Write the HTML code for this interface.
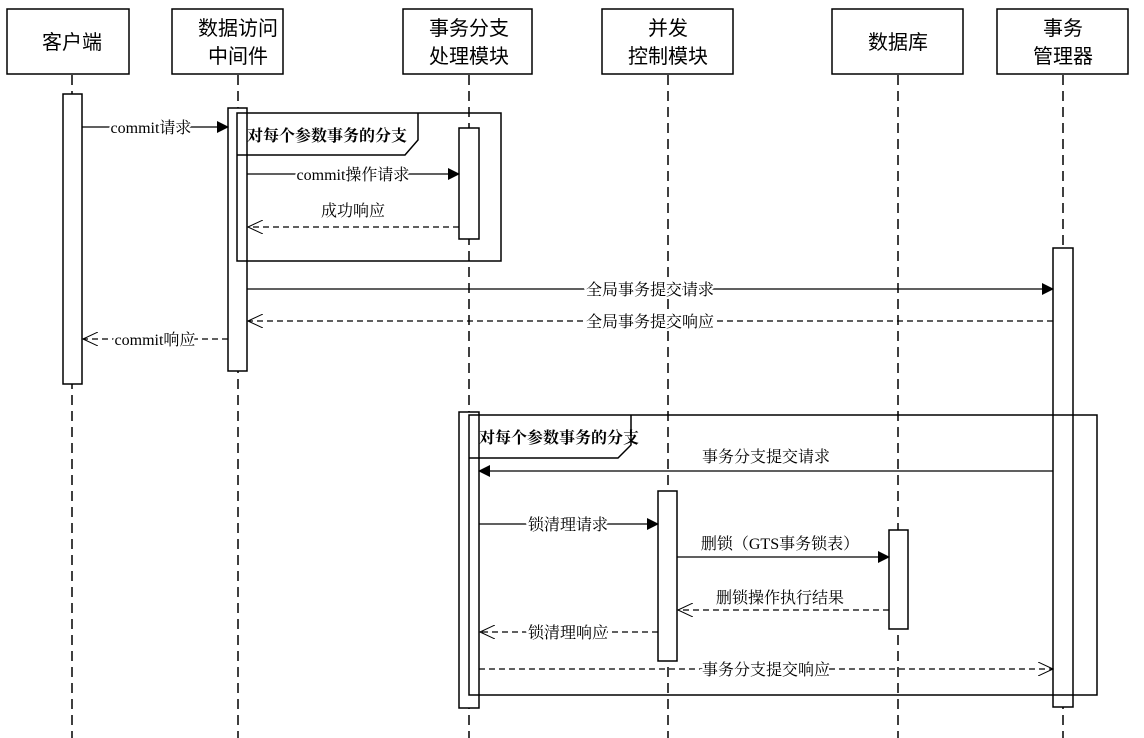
<!DOCTYPE html>
<html><head><meta charset="utf-8"><style>html,body{margin:0;padding:0;background:#fff}svg{display:block}</style></head><body>
<svg width="1144" height="738" viewBox="0 0 1144 738" xmlns="http://www.w3.org/2000/svg" font-family="'Liberation Serif','Noto Serif CJK SC','Noto Sans CJK SC',serif">
<defs>
<marker id="f" markerWidth="12" markerHeight="12" refX="11" refY="6" orient="auto" markerUnits="userSpaceOnUse"><path d="M0,0 L12,6 L0,12 z" fill="#000"/></marker>
<marker id="o" markerWidth="16" markerHeight="14" refX="15" refY="7" orient="auto" markerUnits="userSpaceOnUse"><path d="M0,0 L15,7 L0,14" fill="none" stroke="#000" stroke-width="1"/></marker>
</defs>
<g stroke="#000" stroke-width="1.5" stroke-dasharray="10,6" fill="none">
<line x1="72" y1="75" x2="72" y2="738"/><line x1="238" y1="75" x2="238" y2="738"/><line x1="469" y1="75" x2="469" y2="738"/><line x1="668" y1="75" x2="668" y2="738"/><line x1="898" y1="75" x2="898" y2="738"/><line x1="1063" y1="75" x2="1063" y2="738"/>
</g>
<g stroke="#000" stroke-width="1.5" fill="#fff">
<rect x="7" y="9" width="122" height="65"/><rect x="172" y="9" width="111" height="65"/><rect x="403" y="9" width="129" height="65"/><rect x="602" y="9" width="131" height="65"/><rect x="832" y="9" width="131" height="65"/><rect x="997" y="9" width="131" height="65"/>
</g>
<g font-size="20" text-anchor="middle" font-family="'Liberation Sans','Noto Sans CJK SC',sans-serif">
<text x="72" y="49">客户端</text>
<text x="238" y="35">数据访问</text><text x="238" y="63">中间件</text>
<text x="469" y="35">事务分支</text><text x="469" y="63">处理模块</text>
<text x="668" y="35">并发</text><text x="668" y="63">控制模块</text>
<text x="898" y="49">数据库</text>
<text x="1063" y="35">事务</text><text x="1063" y="63">管理器</text>
</g>
<g stroke="#000" stroke-width="1.5" fill="#fff">
<rect x="63" y="94" width="19" height="290"/>
<rect x="228" y="108" width="19" height="263"/>
<rect x="1053" y="248" width="20" height="459"/>
<rect x="459" y="412" width="20" height="296"/>
</g>
<g stroke="#000" stroke-width="1.5" fill="none">
<rect x="237" y="113" width="264" height="148"/>
<path d="M237,155 L405,155 L418,140 L418,113"/>
<rect x="469" y="415" width="628" height="280"/>
<path d="M469,458 L618,458 L631,445 L631,415"/>
</g>
<g stroke="#000" stroke-width="1.5" fill="#fff">
<rect x="459" y="128" width="20" height="111"/>
<rect x="658" y="491" width="19" height="170"/>
<rect x="889" y="530" width="19" height="99"/>
</g>
<g font-size="16" font-weight="bold"><text x="247" y="141">对每个参数事务的分支</text><text x="479" y="443">对每个参数事务的分支</text></g>
<g stroke="#000" stroke-width="1.2" fill="none">
<line x1="82" y1="127" x2="228" y2="127" marker-end="url(#f)"/>
<line x1="247" y1="174" x2="459" y2="174" marker-end="url(#f)"/>
<line x1="459" y1="227" x2="248" y2="227" stroke-dasharray="6,4" marker-end="url(#o)"/>
<line x1="247" y1="289" x2="1053" y2="289" marker-end="url(#f)"/>
<line x1="1053" y1="321" x2="248" y2="321" stroke-dasharray="6,4" marker-end="url(#o)"/>
<line x1="228" y1="339" x2="83" y2="339" stroke-dasharray="6,4" marker-end="url(#o)"/>
<line x1="1053" y1="471" x2="479" y2="471" marker-end="url(#f)"/>
<line x1="479" y1="524" x2="658" y2="524" marker-end="url(#f)"/>
<line x1="677" y1="557" x2="889" y2="557" marker-end="url(#f)"/>
<line x1="889" y1="610" x2="678" y2="610" stroke-dasharray="6,4" marker-end="url(#o)"/>
<line x1="658" y1="632" x2="480" y2="632" stroke-dasharray="6,4" marker-end="url(#o)"/>
<line x1="479" y1="669" x2="1053" y2="669" stroke-dasharray="6,4" marker-end="url(#o)"/>
</g>
<g font-size="16" text-anchor="middle" fill="#000" stroke="#fff" stroke-width="4" paint-order="stroke">
<text x="151" y="133">commit请求</text>
<text x="353" y="180">commit操作请求</text>
<text x="353" y="216">成功响应</text>
<text x="650" y="295">全局事务提交请求</text>
<text x="650" y="327">全局事务提交响应</text>
<text x="155" y="345">commit响应</text>
<text x="766" y="462">事务分支提交请求</text>
<text x="568" y="530">锁清理请求</text>
<text x="780" y="549">删锁（GTS事务锁表）</text>
<text x="780" y="603">删锁操作执行结果</text>
<text x="568" y="638">锁清理响应</text>
<text x="766" y="675">事务分支提交响应</text>
</g>
</svg>
</body></html>
